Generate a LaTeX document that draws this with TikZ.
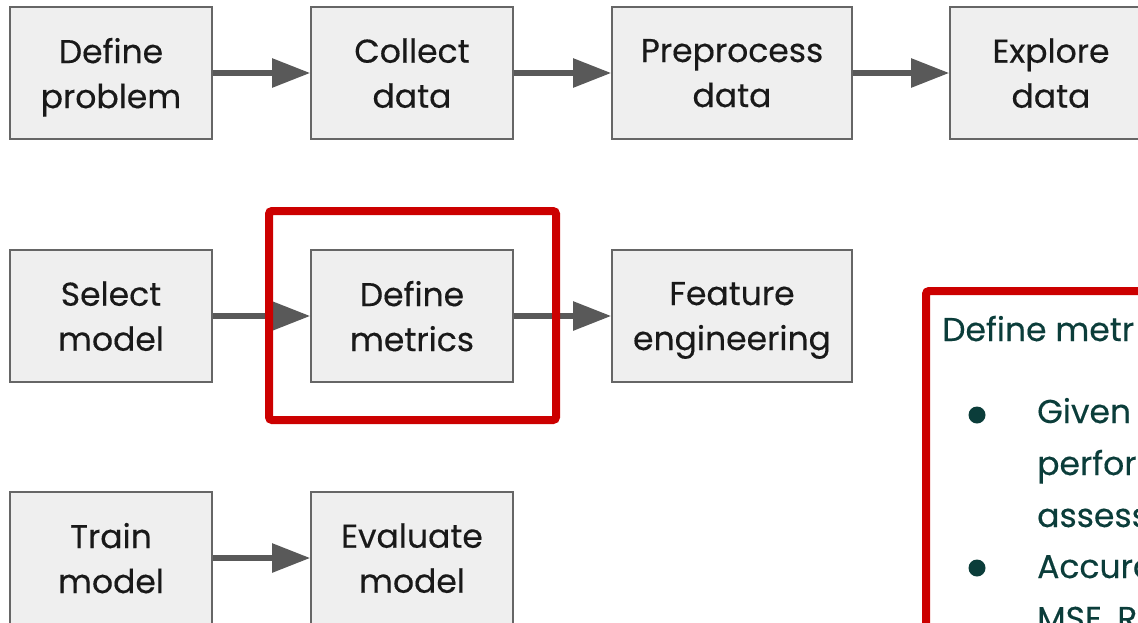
\documentclass[tikz,border=0pt]{standalone}
\usepackage{fontspec}
\setmainfont{Poppins}[FakeBold=0.35]
\usetikzlibrary{arrows.meta}
\definecolor{boxfill}{HTML}{EFEFEF}
\definecolor{boxline}{HTML}{666666}
\definecolor{flow}{HTML}{595959}
\definecolor{hl}{HTML}{CC0000}
\definecolor{note}{HTML}{0B3D3A}
\tikzset{
  stepbox/.style={draw=boxline, line width=1.6pt, fill=boxfill,
    minimum height=132pt, inner sep=0pt, align=center,
    text depth=-6pt,
    font=\fontsize{33}{45}\selectfont, text=black!90},
  narrowbox/.style={stepbox, minimum width=202pt},
  widebox/.style={stepbox, minimum width=240pt},
  flowarrow/.style={draw=flow, line width=5.5pt,
    -{Triangle[length=38pt,width=28pt]}},
  notetext/.style={anchor=base west, inner sep=0pt, text=note,
    font=\fontsize{33}{45}\selectfont},
  bulletdot/.style={circle, fill=note, inner sep=0pt, minimum size=17pt}
}
\begin{document}
\begin{tikzpicture}[x=1pt,y=-1pt]
  \useasboundingbox (0,0) rectangle (1138,622);
  \clip (0,0) rectangle (1138,622);

  % first row of the workflow
  \node[narrowbox] (defprob) at (111,73)  {Define\\problem};
  \node[narrowbox] (collect) at (412,73)  {Collect\\data};
  \node[widebox]   (prep)    at (732,73)  {Preprocess\\data};
  \node[narrowbox] (explore) at (1051,73) {Explore\\data};

  % second row
  \node[narrowbox] (select)  at (111,316) {Select\\model};
  \node[narrowbox] (metrics) at (412,316) {Define\\metrics};
  \node[widebox]   (feature) at (732,316) {Feature\\engineering};

  % third row
  \node[narrowbox] (train)   at (111,558) {Train\\model};
  \node[narrowbox] (eval)    at (412,558) {Evaluate\\model};

  % connectors
  \draw[flowarrow] (defprob) -- (collect);
  \draw[flowarrow] (collect) -- (prep);
  \draw[flowarrow] (prep) -- (explore);
  \draw[flowarrow] (select) -- (metrics);
  \draw[flowarrow] (metrics) -- (feature);
  \draw[flowarrow] (train) -- (eval);

  % highlight around the current step
  \node[draw=hl, line width=8pt, rounded corners=3pt, inner sep=0pt,
        minimum width=287pt, minimum height=209pt] (focus) at (412.5,315.5) {};

  % explanation panel
  \node[draw=hl, line width=8pt, rounded corners=3pt, inner sep=0pt,
        anchor=north west, minimum width=400pt, minimum height=400pt]
        (panel) at (922,287) {};
  \node[notetext] (ptitle) at (942,341) {Define metr};
  \node[bulletdot] (b1) at (977,415) {};
  \node[notetext] (l1) at (1037,423) {Given};
  \node[notetext] (l2) at (1037,475) {perfor};
  \node[notetext] (l3) at (1037,527) {assess};
  \node[bulletdot] (b2) at (977,568) {};
  \node[notetext] (l4) at (1037,578) {Accura};
  \node[notetext] (l5) at (1037,630) {MSE, R};
\end{tikzpicture}
\end{document}
